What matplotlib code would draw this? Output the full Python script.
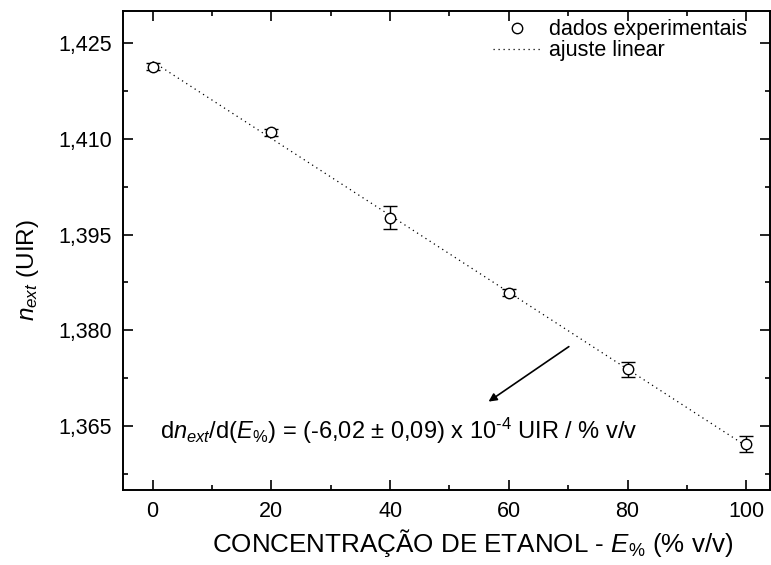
import numpy as np
import matplotlib
matplotlib.use('Agg')
import matplotlib.pyplot as plt
from matplotlib.ticker import MultipleLocator, FuncFormatter

plt.rcParams['font.family'] = ['Liberation Sans', 'DejaVu Sans']
plt.rcParams['mathtext.fontset'] = 'custom'
plt.rcParams['mathtext.rm'] = 'Liberation Sans'
plt.rcParams['mathtext.it'] = 'Liberation Sans:italic'
plt.rcParams['mathtext.default'] = 'it'

# ethanol concentration (% v/v) and measured refractive index
conc = [0, 20, 40, 60, 80, 100]
n_ext = [1.4213, 1.4110, 1.3976, 1.3859, 1.3739, 1.3622]
n_err = [0.0006, 0.0006, 0.0018, 0.0005, 0.0012, 0.0012]

# linear fit: slope from the regression (UIR per % v/v)
slope = -6.02e-4
fit_x = [0, 100]

yticks = [1.365, 1.380, 1.395, 1.410, 1.425]

fig = plt.figure(figsize=(7.71, 5.65), dpi=100)
ax = fig.add_axes([0.1595, 0.1327, 0.8392, 0.8478])

x = np.array(conc)
y = np.array(n_ext)
intercept = y.mean() - slope * x.mean()
fx = np.array(fit_x)

fit_line, = ax.plot(fx, intercept + slope * fx, color='k', lw=0.9,
                    linestyle=(0, (1, 3)), zorder=2)
eb = ax.errorbar(x, y, yerr=n_err, fmt='o', mfc='white', mec='k', mew=1.0,
                 ms=7.5, ecolor='k', elinewidth=1.0, capsize=5, capthick=1.0,
                 zorder=3)

ax.set_xlim(-5, 104)
ax.set_ylim(1.355, 1.430)
ax.set_yticks(yticks)
ax.xaxis.set_major_locator(MultipleLocator(20))
ax.xaxis.set_minor_locator(MultipleLocator(10))
ax.yaxis.set_minor_locator(MultipleLocator(0.0075))
ax.yaxis.set_major_formatter(FuncFormatter(lambda v, p: ('%.3f' % v).replace('.', ',')))

ax.tick_params(which='both', direction='in', top=True, right=True,
               width=1.2, labelsize=15.5, pad=8)
ax.tick_params(which='major', length=7)
ax.tick_params(which='minor', length=3.5)
for sp in ax.spines.values():
    sp.set_linewidth(1.4)

ax.set_xlabel('CONCENTRAÇÃO DE ETANOL - $E_{\\%}$ (% v/v)', fontsize=18.7)
ax.xaxis.set_label_coords(0.541, -0.078)
ax.set_ylabel('$n_{ext}$ (UIR)', fontsize=17.5)
ax.yaxis.set_label_coords(-0.126, 0.459)

ax.text(1.2, 1.3643,
        'd$n_{ext}$/d($E_{\\%}$) = (-6,02 ± 0,09) x 10$^{\u2010\\mathrm{4}}$ UIR / % v/v',
        fontsize=17, va='center', ha='left')
ax.annotate('', xy=(56.2, 1.3686), xytext=(70.5, 1.3777),
            arrowprops=dict(arrowstyle='-|>', color='k', lw=1.2, mutation_scale=12))

ax.legend([eb[0], fit_line], ['dados experimentais', 'ajuste linear'],
          loc='upper right', frameon=False, fontsize=15.5,
          bbox_to_anchor=(0.985, 1.01), handlelength=2.2,
          handletextpad=0.4, labelspacing=0.0, borderaxespad=0.2)

fig.savefig('out.png', dpi=100)
